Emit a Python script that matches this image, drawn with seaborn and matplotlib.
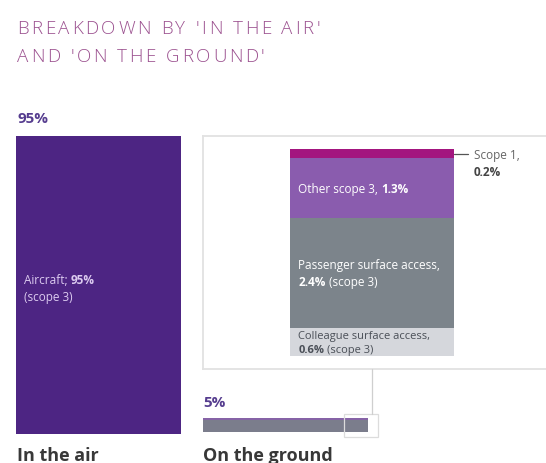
import numpy as np
import pandas as pd
import seaborn as sns
import matplotlib.pyplot as plt
from matplotlib import font_manager
from matplotlib.ft2font import FT2Font
from matplotlib.lines import Line2D
from matplotlib.patches import Rectangle
from matplotlib.transforms import ScaledTranslation

# ---- data ----
title_lines = ["BREAKDOWN BY 'IN THE AIR'", "AND 'ON THE GROUND'"]
groups = ["In the air", "On the ground"]
group_shares = [95, 5]
ground_parts = ["Scope 1", "Other scope 3", "Passenger surface access", "Colleague surface access"]
ground_values = [0.2, 1.3, 2.4, 0.6]

# ---- style ----
AIR_PURPLE = "#4d2583"
SCOPE1 = "#a3157f"
OTHER3 = "#8a5cae"
PASSENGER = "#7c848b"
COLLEAGUE = "#d5d7dc"
GROUND_BAR = "#7b7d8c"
TITLE_COL = "#9c5290"
PCT_COL = "#563d8f"
LABEL_DARK = "#383838"
FRAME = "#e2e2e2"
part_colors = [SCOPE1, OTHER3, PASSENGER, COLLEAGUE]

W, H, DPI = 546, 464, 100

sns.set_theme(style="white")
plt.rcParams["font.family"] = ["Open Sans", "DejaVu Sans"]

fig = plt.figure(figsize=(W / DPI, H / DPI), dpi=DPI)
fig.patch.set_facecolor("white")


def rect_px(x0, y0, x1, y1):
    return [x0 / W, 1 - y1 / H, (x1 - x0) / W, (y1 - y0) / H]


def fx(x):
    return x / W


def fy(y):
    return 1 - y / H


def spaced_text(text, x_px, base_px, size_pt, track_px, color, weight="light"):
    """Draw text one glyph at a time with extra letter spacing."""
    fp = font_manager.FontProperties(family="Open Sans", weight=weight, size=size_pt)
    font = FT2Font(font_manager.findfont(fp))
    font.set_size(size_pt, DPI)
    x = x_px
    for ch in text:
        fig.text(fx(x), fy(base_px), ch, fontproperties=fp, color=color,
                 va="baseline", ha="left")
        x += font.load_char(ord(ch)).linearHoriAdvance / 65536 + track_px


def text_run(ax, x, y, parts, transform, dy=0.0, size=8.5):
    """One line of text made of (string, weight, colour) runs."""
    tr = transform + ScaledTranslation(0, dy / 72, fig.dpi_scale_trans)
    s, w, c = parts[0]
    art = ax.text(x, y, s, transform=tr, fontsize=size, fontweight=w, color=c,
                  va="center", ha="left", clip_on=False)
    for s, w, c in parts[1:]:
        art = ax.annotate(s, xy=(1, 0.5), xycoords=art, xytext=(2.2, 0),
                          textcoords="offset points", fontsize=size, fontweight=w,
                          color=c, va="center", ha="left", annotation_clip=False)
    return art


# ---- title ----
spaced_text(title_lines[0], 17, 34, 13.5, 2.6, TITLE_COL)
spaced_text(title_lines[1], 17, 62, 13.5, 2.6, TITLE_COL)

# ---- frame around the ground breakdown ----
ax_frame = fig.add_axes(rect_px(203, 137, 546, 370))
ax_frame.set_xticks([])
ax_frame.set_yticks([])
ax_frame.patch.set_alpha(0)
for side, sp in ax_frame.spines.items():
    sp.set_visible(side != "right")
    sp.set_color(FRAME)
    sp.set_linewidth(1.3)

# ---- in the air ----
ax_air = fig.add_axes(rect_px(16, 137, 181, 435))
air = pd.DataFrame({"group": [groups[0]], "share": [group_shares[0]]})
sns.barplot(data=air, x="group", y="share", color=AIR_PURPLE, saturation=1,
            width=1, linewidth=0, ax=ax_air)
ax_air.set_xlim(-0.5, 0.5)
ax_air.set_ylim(0, group_shares[0])
ax_air.axis("off")

air_txt = "#dccbf0"
text_run(ax_air, 0.048, 0.49, [("Aircraft;", "normal", air_txt),
                               (f"{group_shares[0]}%", "bold", air_txt)],
         ax_air.transAxes, dy=6)
text_run(ax_air, 0.048, 0.49, [("(scope 3)", "normal", air_txt)],
         ax_air.transAxes, dy=-6)

fig.text(fx(17), fy(123), f"{group_shares[0]}%", fontsize=11, fontweight="bold",
         color=PCT_COL, va="baseline")
fig.text(fx(17), fy(461), groups[0], fontsize=13, fontweight="bold",
         color=LABEL_DARK, va="baseline")

# ---- on the ground ----
ax_gr = fig.add_axes(rect_px(203, 419, 368, 433))
gr = pd.DataFrame({"group": [groups[1]], "share": [group_shares[1]]})
sns.barplot(data=gr, x="share", y="group", orient="h", color=GROUND_BAR,
            saturation=1, width=1, linewidth=0, ax=ax_gr)
ax_gr.set_xlim(0, group_shares[1])
ax_gr.set_ylim(0.5, -0.5)
ax_gr.axhline(-0.45, color=OTHER3, lw=1.1)
ax_gr.axis("off")

fig.text(fx(203), fy(407), f"{group_shares[1]}%", fontsize=11, fontweight="bold",
         color=PCT_COL, va="baseline")
fig.text(fx(203), fy(461), groups[1], fontsize=13, fontweight="bold",
         color=LABEL_DARK, va="baseline")

# zoom marker on the end of the ground bar and its connector
fig.add_artist(Rectangle((fx(344), fy(438)), (378 - 344) / W, (438 - 415) / H,
                         transform=fig.transFigure, fill=False,
                         edgecolor="#dcdcdc", lw=0.9))
fig.add_artist(Line2D([fx(372), fx(372)], [fy(370), fy(415)],
                      transform=fig.transFigure, color="#cfcfcf", lw=0.9))

# ---- stacked breakdown of the ground share ----
ax_st = fig.add_axes(rect_px(290, 150, 454, 357))
bottom_up = [3, 2, 1, 0]
tops = np.cumsum([ground_values[i] for i in bottom_up])
# tallest first, each shorter bar overlays the previous one
for idx, top in reversed(list(zip(bottom_up, tops))):
    sns.barplot(x=[groups[1]], y=[top], color=part_colors[idx], saturation=1,
                width=1, linewidth=0, ax=ax_st)
ax_st.set_xlim(-0.5, 0.5)
ax_st.set_ylim(0, tops[-1])
ax_st.axis("off")

mid = {i: top - ground_values[i] / 2 for i, top in zip(bottom_up, tops)}
yx = ax_st.get_yaxis_transform()
lx = 0.05
white = "#ffffff"
dark = "#4a4f57"

text_run(ax_st, lx, mid[1], [("Other scope 3,", "normal", white),
                             (f"{ground_values[1]}%", "bold", white)], yx)
text_run(ax_st, lx, mid[2], [("Passenger surface access,", "normal", white)], yx, dy=6)
text_run(ax_st, lx, mid[2], [(f"{ground_values[2]}%", "bold", white),
                             ("(scope 3)", "normal", white)], yx, dy=-6)
text_run(ax_st, lx, mid[3], [("Colleague surface access,", "normal", dark)], yx,
         dy=4.8, size=8)
text_run(ax_st, lx, mid[3], [(f"{ground_values[3]}%", "bold", dark),
                             ("(scope 3)", "normal", dark)], yx, dy=-5.6, size=8)

# scope 1 callout
ax_st.plot([1.0, 1.085], [mid[0], mid[0]], transform=yx, color="#555555",
           lw=0.9, clip_on=False)
text_run(ax_st, 1.12, mid[0], [("Scope 1,", "normal", "#666666")], yx, dy=-1)
text_run(ax_st, 1.12, mid[0], [(f"{ground_values[0]}%", "bold", "#444444")], yx, dy=-13)

fig.savefig("out.png", dpi=DPI, facecolor="white")
